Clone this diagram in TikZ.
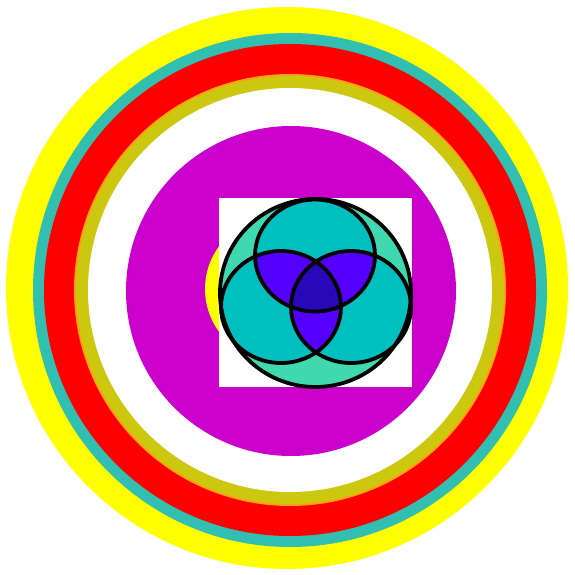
\documentclass[tikz,border=0pt]{standalone}
\definecolor{ringyellow}{HTML}{FFFF00}
\definecolor{ringteal}{HTML}{30BFB0}
\definecolor{ringred}{HTML}{FF0000}
\definecolor{ringorange}{HTML}{FFA010}
\definecolor{ringolive}{HTML}{CCC810}
\definecolor{discmagenta}{HTML}{CC00CC}
\definecolor{vennouter}{HTML}{40D8B0}
\definecolor{venncyan}{HTML}{00BFBF}
\definecolor{vennviolet}{HTML}{5500FF}
\definecolor{venncore}{HTML}{2808B8}
\tikzset{
  vennline/.style={draw=black, line width=3.8pt},
}
\begin{document}
\begin{tikzpicture}[x=1pt,y=-1pt]
  \useasboundingbox (0,0) rectangle (575,575);
  \fill[white] (0,0) rectangle (575,575);

  % Named centres
  \coordinate (ringc) at (290,290);
  \coordinate (discc) at (291,291);
  \coordinate (spotc) at (277,289);
  \coordinate (vennc) at (315.5,293);
  \coordinate (setA) at (315,255.5);
  \coordinate (setB) at (281,307);
  \coordinate (setC) at (351,307);

  % Draw the rings, outside in
  \fill[ringyellow] (287,288) circle (281pt);
  \fill[ringteal] (ringc) circle (257pt);
  \fill[ringred] (ringc) circle (246pt);
  \fill[ringorange] (ringc) circle (216pt);
  \fill[ringolive] (ringc) circle (214pt);
  \fill[white] (ringc) circle (202pt);

  % Draw the magenta disc and the yellow spot
  \fill[discmagenta] (discc) circle (165pt);
  \fill[ringyellow] (spotc) circle (72pt);

  % Draw the white card
  \fill[white] (219,198) rectangle (412,387);

  % Draw the Venn diagram
  \fill[vennouter] (vennc) ellipse [x radius=95.5pt, y radius=94pt];
  \foreach \s in {setA,setB,setC}
    \fill[venncyan] (\s) ellipse [x radius=60pt, y radius=56pt];
  \begin{scope}
    \clip (setA) ellipse [x radius=60pt, y radius=56pt];
    \fill[vennviolet] (setB) ellipse [x radius=60pt, y radius=56pt];
    \fill[vennviolet] (setC) ellipse [x radius=60pt, y radius=56pt];
  \end{scope}
  \begin{scope}
    \clip (setB) ellipse [x radius=60pt, y radius=56pt];
    \fill[vennviolet] (setC) ellipse [x radius=60pt, y radius=56pt];
    \clip (setC) ellipse [x radius=60pt, y radius=56pt];
    \fill[venncore] (setA) ellipse [x radius=60pt, y radius=56pt];
  \end{scope}
  \draw[vennline] (vennc) ellipse [x radius=95.5pt, y radius=94pt];
  \foreach \s in {setA,setB,setC}
    \draw[vennline] (\s) ellipse [x radius=60pt, y radius=56pt];
\end{tikzpicture}
\end{document}
